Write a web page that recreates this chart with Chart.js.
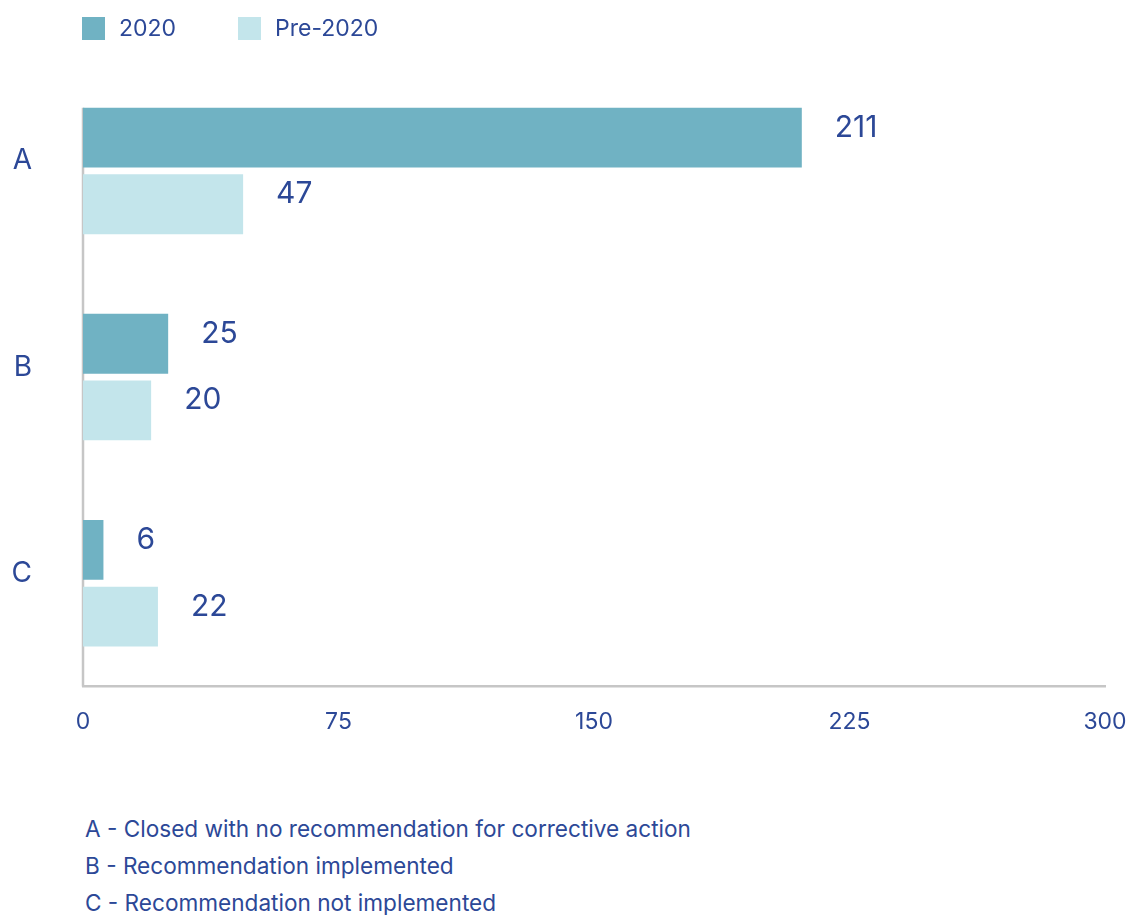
<!DOCTYPE html>
<html>
<head>
<meta charset="utf-8">
<script src="https://cdn.jsdelivr.net/npm/chart.js@4.4.1/dist/chart.umd.min.js"></script>
<style>
  html, body { margin: 0; padding: 0; background: #ffffff; }
  body { width: 1133px; height: 915px; position: relative; overflow: hidden; font-family: Inter, "Noto Sans", sans-serif; color: #2c4897; }
  #wrap { position: absolute; left: 0; top: 0; width: 1133px; height: 766px; }
  #legend { position: absolute; left: 82px; top: 14px; display: flex; align-items: center; font-size: 23px; }
  #legend .item { display: flex; align-items: center; margin-right: 62px; }
  #legend .box { width: 23px; height: 23px; margin-right: 14px; }
  #notes { position: absolute; left: 85px; top: 810px; font-size: 22.6px; line-height: 37px; }
</style>
</head>
<body>
<div id="wrap"><canvas id="chart" width="1133" height="766"></canvas></div>
<div id="legend"></div>
<div id="notes"></div>
<script>
// Outcome categories and counts
const categories = ['A', 'B', 'C'];
const seriesNames = ['2020', 'Pre-2020'];
const values2020 = [211, 25, 6];
const valuesPre2020 = [47, 20, 22];
const xTicks = [0, 75, 150, 225, 300];
const notes = [
  'A - Closed with no recommendation for corrective action',
  'B - Recommendation implemented',
  'C - Recommendation not implemented'
];

const TEXT = '#2c4897';
const COLORS = ['#70b2c3', '#c3e5eb'];
const AXIS = '#c6c6c6';

// Vertical axis line running from the top of the first bar down to the baseline
const leftAxisLine = {
  id: 'leftAxisLine',
  beforeDatasetsDraw(chart) {
    const { ctx, chartArea } = chart;
    const first = chart.getDatasetMeta(0).data[0];
    const top = first.y - first.height / 2;
    ctx.save();
    ctx.strokeStyle = AXIS;
    ctx.lineWidth = 2.5;
    ctx.beginPath();
    ctx.moveTo(chartArea.left, top);
    ctx.lineTo(chartArea.left, chartArea.bottom);
    ctx.stroke();
    ctx.restore();
  }
};

// Value labels printed just past the end of each bar
const valueLabels = {
  id: 'valueLabels',
  afterDatasetsDraw(chart) {
    const ctx = chart.ctx;
    ctx.save();
    ctx.font = '30px Inter, "Noto Sans", sans-serif';
    ctx.fillStyle = TEXT;
    ctx.textAlign = 'left';
    ctx.textBaseline = 'middle';
    chart.data.datasets.forEach((ds, i) => {
      chart.getDatasetMeta(i).data.forEach((bar, j) => {
        ctx.fillText(String(ds.data[j]), bar.x + 33, bar.y - 10);
      });
    });
    ctx.restore();
  }
};

const chart = new Chart(document.getElementById('chart'), {
  type: 'bar',
  data: {
    labels: categories,
    datasets: [
      { label: seriesNames[0], data: values2020, backgroundColor: COLORS[0] },
      { label: seriesNames[1], data: valuesPre2020, backgroundColor: COLORS[1] }
    ]
  },
  options: {
    indexAxis: 'y',
    responsive: false,
    animation: false,
    devicePixelRatio: 1,
    categoryPercentage: 0.647,
    barPercentage: 0.896,
    layout: { padding: { left: 12, top: 66, right: 28, bottom: 8 } },
    plugins: { legend: { display: false }, tooltip: { enabled: false } },
    scales: {
      x: {
        type: 'linear',
        min: xTicks[0],
        max: xTicks[xTicks.length - 1],
        afterBuildTicks(scale) { scale.ticks = xTicks.map(v => ({ value: v })); },
        afterFit(scale) { scale.paddingLeft = 0; scale.paddingRight = 0; },
        grid: { display: false, drawTicks: false },
        border: { display: true, color: AXIS, width: 2.5 },
        ticks: { color: TEXT, font: { size: 23, family: 'Inter' }, padding: 22 }
      },
      y: {
        grid: { display: false, drawTicks: false },
        border: { display: false },
        afterFit(scale) { scale.width = 71; },
        ticks: { color: TEXT, font: { size: 28, family: 'Inter' }, padding: 51, labelOffset: -10 }
      }
    }
  },
  plugins: [leftAxisLine, valueLabels]
});

// Legend built from the chart's datasets
const legend = document.getElementById('legend');
chart.data.datasets.forEach(ds => {
  const item = document.createElement('div');
  item.className = 'item';
  const box = document.createElement('span');
  box.className = 'box';
  box.style.background = ds.backgroundColor;
  const txt = document.createElement('span');
  txt.textContent = ds.label;
  item.appendChild(box);
  item.appendChild(txt);
  legend.appendChild(item);
});

// Category key beneath the chart
const notesEl = document.getElementById('notes');
notes.forEach(t => {
  const d = document.createElement('div');
  d.textContent = t;
  notesEl.appendChild(d);
});
</script>
</body>
</html>
